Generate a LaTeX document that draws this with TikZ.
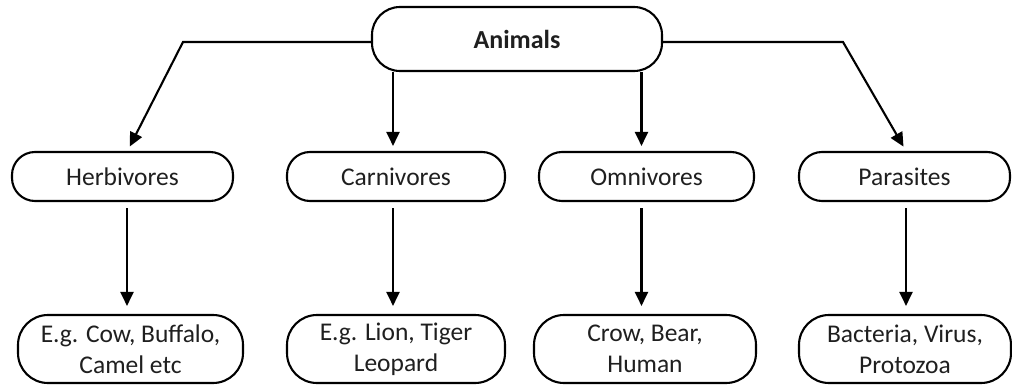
\documentclass[tikz,border=0pt]{standalone}
\usepackage{fontspec}
\setmainfont{Carlito}
\usetikzlibrary{arrows.meta}
\begin{document}
\begin{tikzpicture}[x=1pt,y=-1pt,
  box/.style={draw=black, line width=2.1pt, rounded corners=23pt, inner sep=0pt,
    align=center, minimum height=49pt, font=\fontsize{25.5}{31}\selectfont, text=black!88},
  exbox/.style={box, rounded corners=30pt, minimum height=68pt},
  topbox/.style={box, rounded corners=28pt, minimum height=64pt, font=\fontsize{26}{31}\selectfont\bfseries},
  arr/.style={line width=2.1pt, -{Triangle[length=14pt,width=13pt]}}]
\useasboundingbox (0,0) rectangle (1012,385);
\node[topbox, minimum width=290pt] (anim) at (517,39) {Animals};
\node[box, minimum width=221pt] (herb) at (122.5,176.5) {Herbivores};
\node[box, minimum width=218pt] (carn) at (396,176.5) {Carnivores};
\node[box, minimum width=215pt] (omni) at (646.5,176.5) {Omnivores};
\node[box, minimum width=211pt] (para) at (904.5,176.5) {Parasites};
\node[exbox, minimum width=225pt] (eg1) at (130.5,349) {E.g. Cow, Buffalo,\\Camel etc};
\node[exbox, minimum width=218pt] (eg2) at (396,349) {E.g. Lion, Tiger\\Leopard};
\node[exbox, minimum width=222pt] (eg3) at (645,349) {Crow, Bear,\\Human};
\node[exbox, minimum width=212pt] (eg4) at (905,349) {Bacteria, Virus,\\Protozoa};
\coordinate (lb) at (183,42);
\coordinate (rb) at (843,42);
\draw[arr, shorten >=5pt] (anim.west |- lb) -- (lb) -- ([xshift=5pt]herb.north);
\draw[arr, shorten >=5pt] (anim.east |- rb) -- (rb) -- ([xshift=1.5pt]para.north);
\draw[arr, shorten >=5pt] ([xshift=-3pt]anim.south -| carn.north) -- ([xshift=-3pt]carn.north);
\draw[arr, shorten >=5pt] ([xshift=-5pt]anim.south -| omni.north) -- ([xshift=-5pt]omni.north);
\draw[arr, shorten <=6pt, shorten >=8pt] ([xshift=4.5pt]herb.south) -- ([xshift=4.5pt]herb.south |- eg1.north);
\draw[arr, shorten <=6pt, shorten >=8pt] ([xshift=-3pt]carn.south) -- ([xshift=-3pt]carn.south |- eg2.north);
\draw[arr, shorten <=6pt, shorten >=8pt] ([xshift=-5pt]omni.south) -- ([xshift=-5pt]omni.south |- eg3.north);
\draw[arr, shorten <=6pt, shorten >=8pt] ([xshift=1.5pt]para.south) -- ([xshift=1.5pt]para.south |- eg4.north);
\end{tikzpicture}
\end{document}
